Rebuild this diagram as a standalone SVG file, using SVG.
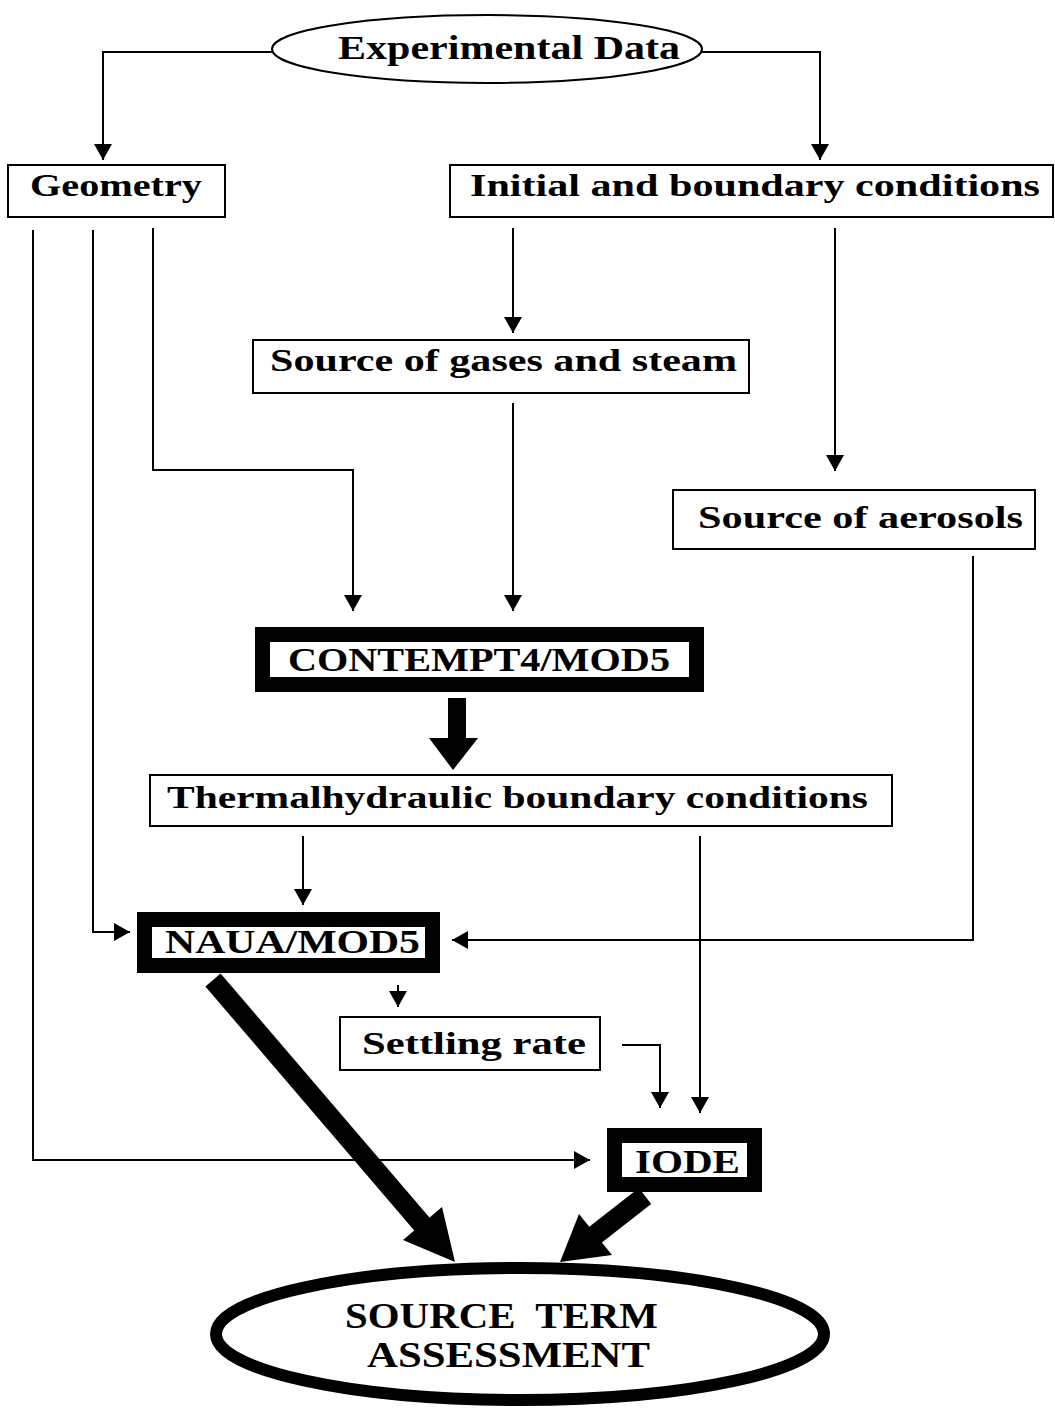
<svg xmlns="http://www.w3.org/2000/svg" width="1055" height="1409" viewBox="0 0 1055 1409">
<style>
.t{font-family:"Liberation Serif",serif;font-weight:bold;fill:#000}
.box{fill:#fff;stroke:#000;stroke-width:2}
.thick{fill:#fff;stroke:#000;stroke-width:15}
.ln{fill:none;stroke:#000;stroke-width:2}
</style>
<defs>
<marker id="ah" markerUnits="userSpaceOnUse" markerWidth="22" markerHeight="18" refX="16" refY="9" orient="auto" viewBox="0 0 22 18">
<path d="M0,0 L16,9 L0,18 z" fill="#000"/>
</marker>
</defs>
<rect width="1055" height="1409" fill="#fff"/>

<g id="connectors">
<path class="ln" d="M272,52 H103 V160" marker-end="url(#ah)"/>
<path class="ln" d="M702,52 H820 V160" marker-end="url(#ah)"/>
<path class="ln" d="M33,230 V1160 H590" marker-end="url(#ah)"/>
<path class="ln" d="M93,230 V932 H130" marker-end="url(#ah)"/>
<path class="ln" d="M153,228 V470 H353 V611" marker-end="url(#ah)"/>
<path class="ln" d="M513,228 V333" marker-end="url(#ah)"/>
<path class="ln" d="M835,228 V471" marker-end="url(#ah)"/>
<path class="ln" d="M513,403 V611" marker-end="url(#ah)"/>
<path class="ln" d="M973,556 V940 H452" marker-end="url(#ah)"/>
<path class="ln" d="M303,836 V905" marker-end="url(#ah)"/>
<path class="ln" d="M700,836 V1113" marker-end="url(#ah)"/>
<path class="ln" d="M398,985 V1007" marker-end="url(#ah)"/>
<path class="ln" d="M622,1045 H660 V1108" marker-end="url(#ah)"/>
<rect x="448" y="698" width="18" height="42" fill="#000"/>
<polygon points="429,738 478,738 453,770" fill="#000"/>
<line x1="213" y1="980" x2="427" y2="1230" stroke="#000" stroke-width="20"/>
<polygon points="455,1262 403,1240 442,1207" fill="#000"/>
<line x1="645" y1="1196" x2="590" y2="1239" stroke="#000" stroke-width="20"/>
<polygon points="560,1262 579,1214 612,1255" fill="#000"/>
</g>

<g id="experimental-data">
<ellipse cx="487" cy="49" rx="215" ry="34" class="box"/>
<text class="t" x="338" y="59" font-size="33" textLength="342" lengthAdjust="spacingAndGlyphs">Experimental Data</text>
</g>

<g id="geometry">
<rect x="8" y="165" width="217" height="52" class="box"/>
<text class="t" x="30" y="196" font-size="31" textLength="172" lengthAdjust="spacingAndGlyphs">Geometry</text>
</g>

<g id="initial-boundary">
<rect x="450" y="165" width="603" height="52" class="box"/>
<text class="t" x="470" y="196" font-size="31" textLength="570" lengthAdjust="spacingAndGlyphs">Initial and boundary conditions</text>
</g>

<g id="source-gases">
<rect x="253" y="340" width="496" height="53" class="box"/>
<text class="t" x="270" y="371" font-size="31" textLength="467" lengthAdjust="spacingAndGlyphs">Source of gases and steam</text>
</g>

<g id="source-aerosols">
<rect x="673" y="490" width="362" height="59" class="box"/>
<text class="t" x="698" y="528" font-size="31" textLength="325" lengthAdjust="spacingAndGlyphs">Source of aerosols</text>
</g>

<g id="contempt">
<rect x="262.5" y="634.5" width="434" height="50" class="thick"/>
<text class="t" x="288" y="671" font-size="33" textLength="382" lengthAdjust="spacingAndGlyphs">CONTEMPT4/MOD5</text>
</g>

<g id="thermalhydraulic">
<rect x="150" y="775" width="742" height="51" class="box"/>
<text class="t" x="167" y="808" font-size="31" textLength="701" lengthAdjust="spacingAndGlyphs">Thermalhydraulic boundary conditions</text>
</g>

<g id="naua">
<rect x="144.5" y="919.5" width="288" height="46" class="thick"/>
<text class="t" x="165" y="953" font-size="33" textLength="255" lengthAdjust="spacingAndGlyphs">NAUA/MOD5</text>
</g>

<g id="settling-rate">
<rect x="340" y="1017" width="260" height="53" class="box"/>
<text class="t" x="362" y="1054" font-size="31" textLength="224" lengthAdjust="spacingAndGlyphs">Settling rate</text>
</g>

<g id="iode">
<rect x="614.5" y="1135.5" width="140" height="49" class="thick"/>
<text class="t" x="635" y="1173" font-size="33" textLength="105" lengthAdjust="spacingAndGlyphs">IODE</text>
</g>

<g id="source-term">
<ellipse cx="520" cy="1334" rx="304" ry="66" fill="#fff" stroke="#000" stroke-width="12"/>
<text class="t" x="345" y="1328" font-size="35" textLength="313" lengthAdjust="spacingAndGlyphs" xml:space="preserve">SOURCE  TERM</text>
<text class="t" x="367" y="1367" font-size="35" textLength="283" lengthAdjust="spacingAndGlyphs">ASSESSMENT</text>
</g>
</svg>
